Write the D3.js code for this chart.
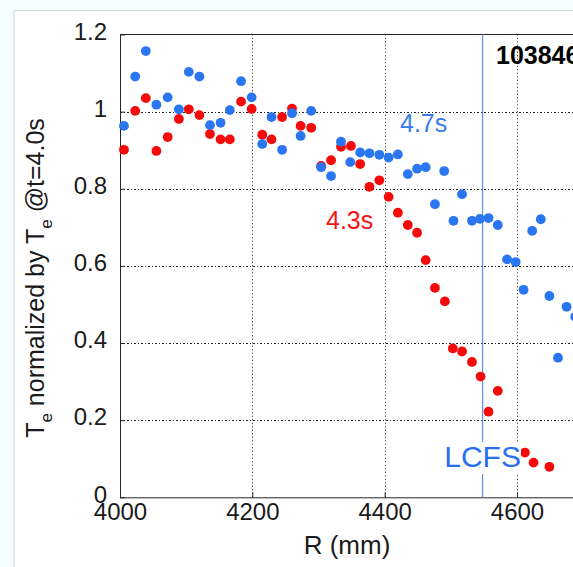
<!DOCTYPE html>
<html>
<head>
<meta charset="utf-8">
<script src="https://cdn.jsdelivr.net/npm/d3@7"></script>
<style>
  html, body { margin: 0; padding: 0; background: #f4fefe; overflow: hidden; }
  #chart { width: 573px; height: 567px; }
  text { font-family: "Liberation Sans", Arial, Helvetica, sans-serif; }
</style>
</head>
<body>
<div id="chart"></div>
<script>
// R positions (mm) of the channels, one list per time slice
const rBlue = [4006, 4023, 4039, 4055, 4072, 4089, 4104, 4120, 4136, 4152, 4166, 4183, 4199, 4215,
  4229, 4245, 4260, 4273, 4289, 4304, 4319, 4334, 4348, 4363, 4377, 4392, 4406, 4420, 4435, 4449,
  4462, 4476, 4490, 4504, 4517, 4532, 4544, 4557, 4571, 4585, 4598, 4610, 4623, 4636, 4649, 4662,
  4675, 4688];
const teBlue = [0.963, 1.091, 1.157, 1.018, 1.037, 1.006, 1.103, 1.091, 0.965, 0.971, 1.004, 1.079,
  1.037, 0.916, 0.986, 0.901, 0.996, 0.937, 1.002, 0.856, 0.833, 0.922, 0.869, 0.894, 0.892, 0.888,
  0.881, 0.889, 0.838, 0.852, 0.856, 0.760, 0.846, 0.717, 0.786, 0.717, 0.722, 0.724, 0.706, 0.617,
  0.610, 0.538, 0.691, 0.721, 0.522, 0.362, 0.494, 0.468];

const rRed = [4006, 4023, 4039, 4055, 4072, 4089, 4104, 4120, 4136, 4152, 4166, 4183, 4199, 4215,
  4229, 4245, 4260, 4273, 4289, 4304, 4319, 4334, 4349, 4363, 4377, 4392, 4406, 4420, 4435, 4449,
  4462, 4476, 4491, 4503, 4517, 4532, 4545, 4557, 4571, 4612, 4625, 4649];
const teRed = [0.901, 1.002, 1.035, 0.898, 0.934, 0.981, 1.006, 0.991, 0.942, 0.928, 0.928, 1.026,
  1.007, 0.940, 0.928, 0.986, 1.008, 0.963, 0.958, 0.859, 0.874, 0.909, 0.911, 0.864, 0.805, 0.822,
  0.779, 0.738, 0.706, 0.686, 0.615, 0.543, 0.508, 0.386, 0.378, 0.351, 0.313, 0.222, 0.276, 0.116,
  0.090, 0.079];

const xTicks = [4000, 4200, 4400, 4600];
const yTicks = [0, 0.2, 0.4, 0.6, 0.8, 1, 1.2];
const lcfsR = 4548;
const shotLabel = "103846";

const width = 573, height = 567;
const margin = { left: 120, top: 34.5, bottom: 69.7 };

const svg = d3.select("#chart").append("svg")
  .attr("width", width)
  .attr("height", height);

// figure panel
svg.append("rect")
  .attr("x", 13).attr("y", 10)
  .attr("width", width).attr("height", height)
  .attr("fill", "#ffffff");
svg.append("line")
  .attr("x1", 13).attr("x2", width).attr("y1", 10.5).attr("y2", 10.5)
  .attr("stroke", "#d2d2d2");
svg.append("line")
  .attr("x1", 14).attr("x2", 14).attr("y1", 10).attr("y2", height)
  .attr("stroke", "#e8e8e8").attr("stroke-width", 2);

const x = d3.scaleLinear()
  .domain([4000, 4800])
  .range([margin.left, margin.left + 529.3]);
const y = d3.scaleLinear()
  .domain([0, 1.2])
  .range([height - margin.bottom, margin.top]);

// grid
const grid = svg.append("g").attr("class", "grid");
grid.selectAll("line.gx")
  .data(xTicks.slice(1))
  .join("line")
  .attr("class", "gx")
  .attr("x1", d => Math.round(x(d)) + 0.5).attr("x2", d => Math.round(x(d)) + 0.5)
  .attr("y1", y(0)).attr("y2", y(1.2))
  .attr("stroke", "#222").attr("stroke-width", 1)
  .attr("stroke-dasharray", "1,2.5");
grid.selectAll("line.gy")
  .data(yTicks.slice(1, -1))
  .join("line")
  .attr("class", "gy")
  .attr("x1", x(4000)).attr("x2", width)
  .attr("y1", d => Math.round(y(d)) + 0.5).attr("y2", d => Math.round(y(d)) + 0.5)
  .attr("stroke", "#222").attr("stroke-width", 1)
  .attr("stroke-dasharray", "2,2,1,2");

// axes
const xAxis = d3.axisBottom(x).tickValues(xTicks).tickSize(-5).tickPadding(6).tickFormat(d3.format("d"));
const yAxis = d3.axisLeft(y).tickValues(yTicks).tickSize(-5).tickPadding(13).tickFormat(d => d3.format("")(d));

const gx = svg.append("g")
  .attr("transform", `translate(0, ${y(0)})`)
  .call(xAxis);
const gy = svg.append("g")
  .attr("transform", `translate(${x(4000)}, 0)`)
  .call(yAxis);
[gx, gy].forEach(g => {
  g.select(".domain").attr("stroke", "#262626");
  g.selectAll(".tick line").attr("stroke", "#262626");
  g.selectAll(".tick text").attr("font-size", 24).attr("fill", "#1a1a1a")
    .style("font-family", "'Liberation Sans', Arial, sans-serif");
});
gy.selectAll(".tick text").attr("dy", "0.2em");
gx.select(".domain").attr("d", `M${x(4000)},0.5H${width}`);
gy.select(".domain").attr("d", `M0.5,${y(0)}V${y(1.2)}`);

// top border
svg.append("line")
  .attr("x1", x(4000)).attr("x2", width)
  .attr("y1", y(1.2)).attr("y2", y(1.2))
  .attr("stroke", "#262626");

// LCFS line
svg.append("line")
  .attr("x1", x(lcfsR)).attr("x2", x(lcfsR))
  .attr("y1", y(1.2)).attr("y2", y(0))
  .attr("stroke", "#5b8ff0").attr("stroke-width", 1.2);

// dots
svg.append("g").selectAll("circle")
  .data(rRed.map((r, i) => ({ r, v: teRed[i] })))
  .join("circle")
  .attr("cx", d => x(d.r)).attr("cy", d => y(d.v))
  .attr("r", 4.9)
  .attr("fill", "#f50a0a");
svg.append("g").selectAll("circle")
  .data(rBlue.map((r, i) => ({ r, v: teBlue[i] })))
  .join("circle")
  .attr("cx", d => x(d.r)).attr("cy", d => y(d.v))
  .attr("r", 4.9)
  .attr("fill", "#2a76f0");

// LCFS label with white box
const lcfs = svg.append("text")
  .attr("x", x(lcfsR)).attr("y", 467)
  .attr("text-anchor", "middle")
  .attr("font-size", 30)
  .attr("fill", "#2a6ff2")
  .text("LCFS");
const bb = lcfs.node().getBBox();
svg.insert("rect", function () { return lcfs.node(); })
  .attr("x", bb.x).attr("y", 442)
  .attr("width", bb.width).attr("height", 32)
  .attr("fill", "#ffffff");

svg.append("text")
  .attr("x", 400).attr("y", 132)
  .attr("font-size", 25)
  .attr("fill", "#3a7be8")
  .text("4.7s");
svg.append("text")
  .attr("x", 326).attr("y", 229)
  .attr("font-size", 25)
  .attr("fill", "#f51414")
  .text("4.3s");
svg.append("text")
  .attr("x", 496).attr("y", 64)
  .attr("font-size", 25)
  .attr("font-weight", "bold")
  .attr("fill", "#000")
  .text(shotLabel);

// axis labels
svg.append("text")
  .attr("x", 347).attr("y", 554)
  .attr("text-anchor", "middle")
  .attr("font-size", 26)
  .attr("fill", "#1a1a1a")
  .text("R (mm)");

const yl = svg.append("text")
  .attr("transform", "translate(43.5, 278) rotate(-90)")
  .attr("text-anchor", "middle")
  .attr("font-size", 25)
  .attr("fill", "#1a1a1a");
yl.append("tspan").text("T");
yl.append("tspan").attr("font-size", 17).attr("dy", 8).text("e");
yl.append("tspan").attr("dy", -8).text(" normalized by T");
yl.append("tspan").attr("font-size", 17).attr("dy", 8).text("e");
yl.append("tspan").attr("dy", -8).text(" @t=4.0s");
</script>
</body>
</html>
